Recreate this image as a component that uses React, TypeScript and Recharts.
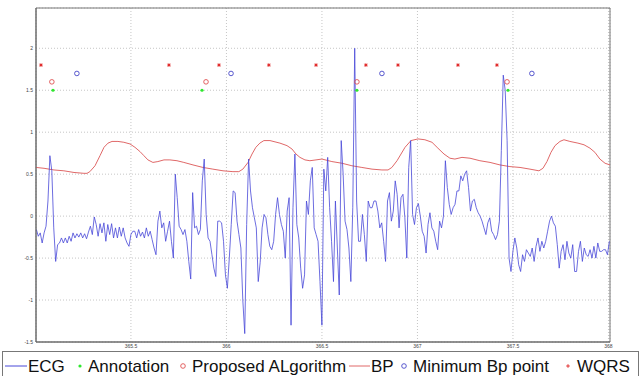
import React from "react";
import {
  ComposedChart,
  Line,
  Scatter,
  XAxis,
  YAxis,
  CartesianGrid,
  ReferenceArea,
} from "recharts";

// ECG sampled on a regular grid
const ecgStart = 365.005;
const ecgStep = 0.0101;
const ecgValues = [
  -0.16, -0.24, -0.2, -0.32, -0.2, -0.12, 0.18, 0.72, 0.54, -0.14,
  -0.54, -0.34, -0.32, -0.26, -0.32, -0.26, -0.32, -0.24, -0.3, -0.2,
  -0.26, -0.21, -0.25, -0.2, -0.26, -0.21, -0.27, -0.19, -0.12, -0.22,
  -0.01, -0.1, -0.24, -0.09, -0.2, -0.08, -0.3, -0.1, -0.22, -0.09,
  -0.26, -0.14, -0.26, -0.13, -0.24, -0.14, -0.26, -0.32, -0.36, -0.22,
  -0.18, -0.18, -0.26, -0.16, -0.24, -0.19, -0.26, -0.14, -0.24, -0.18,
  -0.28, -0.38, -0.46, -0.06, 0.06, -0.14, -0.08, -0.3, -0.18, -0.06,
  -0.3, -0.5, 0.5, 0.22, -0.12, -0.16, -0.22, -0.16, -0.3, -0.54,
  -0.75, 0.28, -0.14, -0.12, -0.22, -0.16, 0.42, 0.68, 0.02, -0.26,
  -0.3, -0.46, -0.62, -0.72, -0.06, -0.06, -0.08, -0.3, -0.7, -0.86,
  -0.5, -0.1, 0.3, 0.28, -0.06, -0.22, -0.38, -1.0, -1.4, -0.1,
  0.68, 0.3, 0.1, -0.02, -0.14, -0.78, -0.55, -0.14, 0.02, -0.02,
  -0.22, -0.36, -0.4, -0.3, 0.02, 0.22, 0.02, -0.1, -0.18, -0.5,
  0.06, 0.22, -1.3, 0.1, 0.74, -0.1, -0.26, -0.62, -0.86, -0.7,
  0.18, 0.02, 0.42, 0.58, -0.14, -0.22, -0.3, -0.78, -1.3, 0.56,
  0.3, 0.7, 0.1, -0.3, -0.78, 0.18, -0.38, -0.94, 0.9, 0.5,
  -0.06, -0.16, -0.38, -0.78, 0.1, 2.0, 0.18, -0.3, -0.3, 0.02,
  -0.22, -0.54, 0.18, 0.1, 0.1, 0.18, 0.18, 0.06, -0.14, -0.08,
  -0.3, -0.54, 0.18, 0.28, -0.06, 0.06, 0.42, 0.26, -0.14, 0.22,
  0.26, -0.02, -0.5, 0.58, 0.9, 0.02, -0.1, 0.1, 0.15, 0.0,
  -0.18, -0.24, -0.44, -0.1, 0.04, -0.14, -0.18, -0.3, -0.4, -0.06,
  -0.14, 0.0, 0.66, 0.34, 0.14, 0.02, 0.1, 0.14, 0.3, 0.3,
  0.48, 0.42, 0.5, 0.54, 0.34, 0.06, 0.18, 0.2, 0.1, 0.04,
  0.0, -0.06, -0.14, -0.22, -0.08, -0.02, -0.18, -0.22, -0.28, -0.22,
  -0.06, 0.78, 1.68, 1.5, 0.9, -0.5, -0.66, -0.42, -0.26, -0.38,
  -0.58, -0.66, -0.46, -0.54, -0.4, -0.44, -0.48, -0.38, -0.54, -0.36,
  -0.26, -0.42, -0.3, -0.38, -0.3, -0.18, -0.06, 0.0, -0.08, -0.12,
  -0.34, -0.62, -0.42, -0.34, -0.52, -0.3, -0.44, -0.5, -0.34, -0.66,
  -0.66, -0.42, -0.3, -0.54, -0.38, -0.46, -0.48, -0.4, -0.5, -0.36,
  -0.5, -0.32, -0.42, -0.42, -0.4, -0.4, -0.46, -0.3,
];

// Blood pressure trace
const bpTimes = [
  365.003, 365.045, 365.097, 365.149, 365.202, 365.254, 365.27, 365.285, 365.312, 365.338,
  365.359, 365.38, 365.401, 365.432, 365.463, 365.495, 365.521, 365.547, 365.568, 365.589,
  365.615, 365.641, 365.673, 365.704, 365.741, 365.777, 365.825, 365.877, 365.929, 365.982,
  366.034, 366.065, 366.086, 366.113, 366.134, 366.154, 366.175, 366.196, 366.228, 366.28,
  366.317, 366.343, 366.364, 366.385, 366.411, 366.437, 366.469, 366.5, 366.552, 366.605,
  366.657, 366.709, 366.762, 366.814, 366.846, 366.866, 366.893, 366.914, 366.935, 366.966,
  367.003, 367.039, 367.076, 367.107, 367.139, 367.17, 367.196, 367.233, 367.275, 367.327,
  367.38, 367.432, 367.484, 367.537, 367.589, 367.636, 367.657, 367.678, 367.699, 367.72,
  367.746, 367.767, 367.798, 367.84, 367.872, 367.903, 367.929, 367.955, 367.982, 368.008,
];
const bpValues = [
  0.58, 0.57, 0.55, 0.54, 0.52, 0.51, 0.51, 0.53, 0.6, 0.72,
  0.82, 0.87, 0.89, 0.89, 0.88, 0.86, 0.82, 0.77, 0.72, 0.67,
  0.64, 0.65, 0.67, 0.67, 0.66, 0.64, 0.61, 0.58, 0.56, 0.54,
  0.53, 0.53, 0.56, 0.64, 0.74, 0.82, 0.87, 0.9, 0.9, 0.87,
  0.84, 0.8, 0.74, 0.7, 0.67, 0.66, 0.67, 0.68, 0.65, 0.63,
  0.6, 0.58, 0.56, 0.55, 0.55, 0.58, 0.66, 0.74, 0.82, 0.9,
  0.92, 0.91, 0.88, 0.81, 0.74, 0.69, 0.68, 0.7, 0.69, 0.66,
  0.64, 0.61, 0.59, 0.58, 0.56, 0.54, 0.57, 0.65, 0.76, 0.84,
  0.89, 0.91, 0.89, 0.87, 0.85, 0.81, 0.76, 0.68, 0.63, 0.61,
];

// Detected beat markers
const annotationTimes = [365.092, 365.872, 366.683, 367.474];
const annotationLevel = 1.5;
const proposedTimes = [365.086, 365.893, 366.683, 367.469];
const proposedLevel = 1.6;
const minBpTimes = [365.217, 366.024, 366.814, 367.599];
const minBpLevel = 1.7;
const wqrsTimes = [365.029, 365.699, 365.961, 366.222, 366.469, 366.73, 366.898, 367.212, 367.416];
const wqrsLevel = 1.8;

const xTicks = [365.5, 366, 366.5, 367, 367.5, 368];
const yTicks = [-1.5, -1, -0.5, 0, 0.5, 1, 1.5, 2];
const xDomain: [number, number] = [365.003, 368.008];
const yDomain: [number, number] = [-1.5, 2.48];

const ecgData = ecgValues.map((v, i) => ({ t: ecgStart + i * ecgStep, v }));
const bpData = bpTimes.map((t, i) => ({ t, v: bpValues[i] }));
const mk = (ts: number[], level: number) => ts.map((t) => ({ t, v: level }));

const ECG_C = "#4848d8";
const BP_C = "#e06868";
const GREEN = "#2ee82e";
const RED = "#e02424";
const BLUE_O = "#4646c8";
const RED_O = "#e05050";
const FONT = "'Liberation Sans', Arial, sans-serif";

const GreenDot = (p: any) => <circle cx={p.cx} cy={p.cy} r={1.6} fill={GREEN} />;
const RedCircle = (p: any) => (
  <circle cx={p.cx} cy={p.cy} r={2.3} fill="none" stroke={RED_O} strokeWidth={0.9} />
);
const BlueCircle = (p: any) => (
  <circle cx={p.cx} cy={p.cy} r={2.3} fill="none" stroke={BLUE_O} strokeWidth={0.9} />
);
const Star = (p: any) => (
  <g stroke={RED} strokeWidth={0.9}>
    <line x1={p.cx - 1.8} y1={p.cy} x2={p.cx + 1.8} y2={p.cy} />
    <line x1={p.cx} y1={p.cy - 1.8} x2={p.cx} y2={p.cy + 1.8} />
    <line x1={p.cx - 1.3} y1={p.cy - 1.3} x2={p.cx + 1.3} y2={p.cy + 1.3} />
    <line x1={p.cx - 1.3} y1={p.cy + 1.3} x2={p.cx + 1.3} y2={p.cy - 1.3} />
  </g>
);

const fmt = (v: number) => String(v);

const LegendBox = () => (
  <svg
    width={641}
    height={376}
    style={{ position: "absolute", left: 0, top: 0, pointerEvents: "none" }}
  >
    <rect x={2.5} y={351.5} width={636} height={30} fill="#fff" stroke="#777" strokeWidth={1} />
    <g fontFamily={FONT} fontSize={17} fill="#111">
      <line x1={5} y1={366} x2={27} y2={366} stroke={ECG_C} strokeWidth={1} />
      <text x={28} y={372}>ECG</text>
      <circle cx={80} cy={366} r={1.6} fill={GREEN} />
      <text x={88} y={372}>Annotation</text>
      <circle cx={183} cy={366} r={2.3} fill="none" stroke={RED_O} strokeWidth={0.9} />
      <text x={192} y={372}>Proposed ALgorithm</text>
      <line x1={349} y1={366} x2={370} y2={366} stroke={BP_C} strokeWidth={1} />
      <text x={371} y={372}>BP</text>
      <circle cx={404} cy={366} r={2.3} fill="none" stroke={BLUE_O} strokeWidth={0.9} />
      <text x={413} y={372}>Minimum Bp point</text>
      <g stroke={RED} strokeWidth={0.9}>
        <line x1={566.2} y1={366} x2={569.8} y2={366} />
        <line x1={568} y1={364.2} x2={568} y2={367.8} />
      </g>
      <text x={577} y={372}>WQRS</text>
    </g>
  </svg>
);

export default function App() {
  return (
    <div
      style={{
        position: "absolute",
        left: 0,
        top: 0,
        width: 641,
        height: 376,
        background: "#fff",
        overflow: "hidden",
      }}
    >
      <ComposedChart
        width={641}
        height={376}
        margin={{ top: 8, right: 31, bottom: 22, left: 6 }}
      >
        <CartesianGrid stroke="#b8b8b8" strokeDasharray="1 2" strokeWidth={0.8} />
        <XAxis
          dataKey="t"
          type="number"
          domain={xDomain}
          ticks={xTicks}
          allowDataOverflow
          height={12}
          tickFormatter={fmt}
          tick={{ fontSize: 5, fill: "#444", fontFamily: FONT }}
          tickLine={false}
          tickSize={0}
          axisLine={{ stroke: "#666" }}
          tickMargin={2}
        />
        <YAxis
          dataKey="v"
          type="number"
          domain={yDomain}
          ticks={yTicks}
          allowDataOverflow
          width={30}
          tickFormatter={fmt}
          tick={{ fontSize: 5, fill: "#444", fontFamily: FONT }}
          tickLine={false}
          tickSize={0}
          axisLine={{ stroke: "#666" }}
          tickMargin={3}
        />
        <ReferenceArea
          x1={xDomain[0]}
          x2={xDomain[1]}
          y1={yDomain[0]}
          y2={yDomain[1]}
          fill="none"
          stroke="#777"
          strokeWidth={1}
        />
        <Line
          data={bpData}
          dataKey="v"
          type="linear"
          stroke={BP_C}
          strokeWidth={1}
          dot={false}
          isAnimationActive={false}
        />
        <Line
          data={ecgData}
          dataKey="v"
          type="linear"
          stroke={ECG_C}
          strokeWidth={0.8}
          dot={false}
          isAnimationActive={false}
        />
        <Scatter data={mk(wqrsTimes, wqrsLevel)} dataKey="v" shape={Star} isAnimationActive={false} />
        <Scatter data={mk(minBpTimes, minBpLevel)} dataKey="v" shape={BlueCircle} isAnimationActive={false} />
        <Scatter data={mk(proposedTimes, proposedLevel)} dataKey="v" shape={RedCircle} isAnimationActive={false} />
        <Scatter data={mk(annotationTimes, annotationLevel)} dataKey="v" shape={GreenDot} isAnimationActive={false} />
      </ComposedChart>
      <LegendBox />
    </div>
  );
}
